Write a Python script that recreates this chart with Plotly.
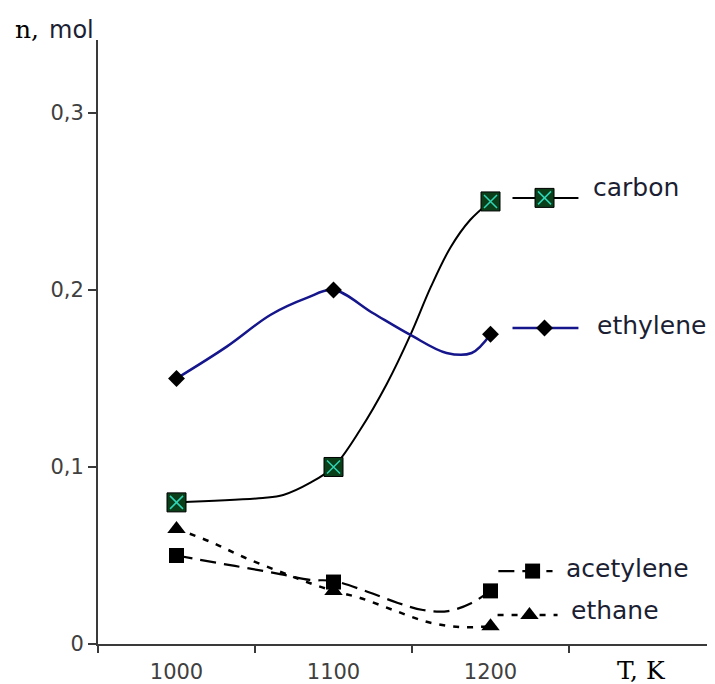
import plotly.graph_objects as go

# ---- data ----
T = [1000, 1100, 1200]
carbon = [0.080, 0.100, 0.250]
ethylene = [0.150, 0.200, 0.175]
acetylene = [0.050, 0.035, 0.030]
ethane = [0.065, 0.030, 0.010]

# paths of the drawn (smoothed) curves
carbon_curve_T = [1000, 1055, 1068, 1085, 1100, 1117, 1134, 1149, 1162, 1174.5, 1187, 1200]
carbon_curve_n = [0.080, 0.0825, 0.0842, 0.091, 0.100, 0.121, 0.147, 0.1746, 0.2017, 0.224, 0.2395, 0.250]

ethylene_curve_T = [1000, 1032, 1060, 1083, 1100, 1125, 1149, 1172, 1188, 1200]
ethylene_curve_n = [0.150, 0.168, 0.186, 0.1955, 0.200, 0.187, 0.1746, 0.1644, 0.1644, 0.175]

acetylene_curve_T = [1000, 1026, 1045, 1066, 1085, 1100, 1122, 1141, 1157, 1173, 1188, 1200]
acetylene_curve_n = [0.050, 0.0458, 0.0429, 0.0395, 0.0362, 0.0356, 0.0294, 0.0232, 0.0192, 0.0186, 0.0232, 0.030]

ethane_curve_T = [1000, 1022, 1043, 1068, 1083, 1100, 1117, 1138, 1160, 1181, 1200]
ethane_curve_n = [0.065, 0.0576, 0.049, 0.0401, 0.035, 0.030, 0.026, 0.0192, 0.0124, 0.0096, 0.010]

x_tick_text = ["1000", "1100", "1200"]
y_ticks = [0, 0.1, 0.2, 0.3]
y_tick_text = ["0", "0,1", "0,2", "0,3"]
series_names = ["carbon", "ethylene", "acetylene", "ethane"]

# ---- styles ----
AX = "#3a3a3a"
NAVY = "#15158c"
GREEN = "#0a3f1a"
CYAN = "#2fd5b5"
TXT = "#1c1f33"
SANS = "DejaVu Sans"
SERIF = "DejaVu Serif"

styles = {
    "carbon": dict(line=dict(color="black", width=2)),
    "ethylene": dict(line=dict(color=NAVY, width=2.5)),
    "acetylene": dict(line=dict(color="black", width=2.2, dash="16px,8px")),
    "ethane": dict(line=dict(color="black", width=2.5, dash="6px,8px")),
}
markers = {
    "ethylene": dict(symbol="diamond", size=13, color="black"),
    "acetylene": dict(symbol="square", size=15, color="black"),
    "ethane": dict(symbol="triangle-up", size=16, color="black"),
}

fig = go.Figure()

curves = {
    "carbon": (carbon_curve_T, carbon_curve_n, carbon),
    "ethylene": (ethylene_curve_T, ethylene_curve_n, ethylene),
    "acetylene": (acetylene_curve_T, acetylene_curve_n, acetylene),
    "ethane": (ethane_curve_T, ethane_curve_n, ethane),
}


def add_carbon_marker(x, y):
    fig.add_trace(go.Scatter(x=x, y=y, mode="markers", showlegend=False, hoverinfo="skip",
                             marker=dict(symbol="square", size=19, color=GREEN,
                                         line=dict(color="black", width=1))))
    fig.add_trace(go.Scatter(x=x, y=y, mode="markers", showlegend=False, hoverinfo="skip",
                             marker=dict(symbol="x-thin-open", size=13, color=CYAN,
                                         line=dict(color=CYAN, width=1.5))))


for name in series_names:
    cx, cy, pts = curves[name]
    fig.add_trace(go.Scatter(x=cx, y=cy, mode="lines", line_shape="spline",
                             showlegend=False, hoverinfo="skip", **styles[name]))
    if name == "carbon":
        add_carbon_marker(T, pts)
    else:
        fig.add_trace(go.Scatter(x=T, y=pts, mode="markers", name=name,
                                 showlegend=False, marker=markers[name]))

# ---- hand-placed legend samples (layout positions, in axis units) ----
legend_pos = {
    # name: (line x0, line x1, line y, marker x, text x, text y)
    "carbon": (1214, 1256, 0.252, 1234.4, 1264, 0.2576),
    "ethylene": (1214, 1256, 0.1785, 1234.4, 1266.5, 0.1802),
    "acetylene": (1205, 1239.5, 0.0412, 1226.8, 1246.5, 0.0424),
    "ethane": (1204.5, 1242.7, 0.0164, 1224.8, 1249.7, 0.0192),
}
for name in series_names:
    x0, x1, ly, mx, tx, ty = legend_pos[name]
    fig.add_trace(go.Scatter(x=[x0, x1], y=[ly, ly], mode="lines", showlegend=False,
                             hoverinfo="skip", **styles[name]))
    if name == "carbon":
        add_carbon_marker([mx], [ly])
    else:
        fig.add_trace(go.Scatter(x=[mx], y=[ly], mode="markers", showlegend=False,
                                 hoverinfo="skip", marker=markers[name]))
    fig.add_annotation(x=tx, y=ty, xref="x", yref="y", text=name, showarrow=False,
                       xanchor="left", yanchor="middle",
                       font=dict(family=SANS, size=25, color=TXT))

# axis titles
fig.add_annotation(x=-0.139, y=1.017, xref="paper", yref="paper", text="n,",
                   showarrow=False, xanchor="left", yanchor="middle",
                   font=dict(family=SERIF, size=25, color="black"))
fig.add_annotation(x=-0.083, y=1.017, xref="paper", yref="paper", text="mol",
                   showarrow=False, xanchor="left", yanchor="middle",
                   font=dict(family=SANS, size=24, color=TXT))
fig.add_annotation(x=0.844, y=-0.044, xref="paper", yref="paper", text="T, K",
                   showarrow=False, xanchor="left", yanchor="middle",
                   font=dict(family=SERIF, size=25, color="black"))

# the page body adds an 8px offset, so the figure is 8px smaller than the window
fig.update_layout(
    width=707, height=676,
    margin=dict(l=90, r=5, t=32, b=40),
    plot_bgcolor="white", paper_bgcolor="white",
    showlegend=False,
    xaxis=dict(range=[950, 1339.8], tickvals=T, ticktext=x_tick_text, ticks="",
               showline=True, linecolor=AX, linewidth=2, showgrid=False, zeroline=False,
               automargin=False,
               tickfont=dict(family=SANS, size=21, color="#404040"),
               ticklabelstandoff=8,
               minor=dict(tickvals=[950, 1050, 1150, 1250], ticks="outside", ticklen=7,
                          tickwidth=2, tickcolor=AX, showgrid=False)),
    yaxis=dict(range=[0, 0.3412], tickvals=y_ticks, ticktext=y_tick_text, ticks="outside",
               ticklen=8, tickwidth=2, tickcolor=AX,
               showline=True, linecolor=AX, linewidth=2, showgrid=False, zeroline=False,
               automargin=False,
               tickfont=dict(family=SANS, size=21, color="#404040"),
               ticklabelstandoff=0),
)

fig.write_html("out.html")
